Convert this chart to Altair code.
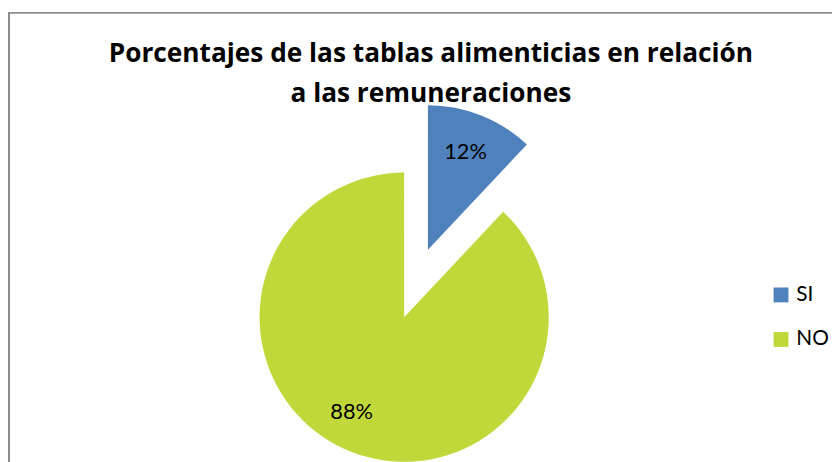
import altair as alt
import pandas as pd

categorias = ["SI", "NO"]
valores = [12, 88]
orden = [0, 1]
colores = ["#4F81BD", "#C2D83A"]
titulo = ["Porcentajes de las tablas alimenticias en relación", "a las remuneraciones"]

df = pd.DataFrame({"categoria": categorias, "valor": valores, "orden": orden})

FONT = "Lato"
TFONT = "Open Sans"
R = 146
CX, CY = 400, 310
SX, SY = 424, 242

color_enc = alt.Color(
    "categoria:N",
    scale=alt.Scale(domain=categorias, range=colores),
    sort=categorias,
    legend=alt.Legend(
        title=None, orient="none", legendX=770, legendY=277,
        symbolType="square", symbolSize=225, symbolStrokeWidth=0,
        labelFont=FONT, labelFontSize=21, labelColor="#000000",
        rowPadding=23, labelOffset=5, padding=0,
    ),
)
theta_enc = alt.Theta("valor:Q", stack=True)
order_enc = alt.Order("orden:Q")

base = alt.Chart(df).transform_calculate(pct="datum.valor / 100")


def op(cat):
    return alt.condition(f"datum.categoria == '{cat}'", alt.value(1), alt.value(0))


arc_no = base.mark_arc(radius=R, stroke=None).encode(
    theta=theta_enc, color=color_enc, order=order_enc,
    x=alt.value(CX), y=alt.value(CY), opacity=op("NO"),
)
arc_si = base.mark_arc(radius=R, stroke=None).encode(
    theta=theta_enc, color=color_enc, order=order_enc,
    x=alt.value(SX), y=alt.value(SY), opacity=op("SI"),
)
txt_no = base.mark_text(radius=106, font=FONT, fontSize=22, color="#000000").encode(
    theta=theta_enc, order=order_enc, text=alt.Text("pct:Q", format=".0%"),
    x=alt.value(CX - 14), y=alt.value(CY - 3), opacity=op("NO"),
)
txt_si = base.mark_text(radius=106, font=FONT, fontSize=22, color="#000000").encode(
    theta=theta_enc, order=order_enc, text=alt.Text("pct:Q", format=".0%"),
    x=alt.value(SX - 1), y=alt.value(SY), opacity=op("SI"),
)
border_left = alt.Chart(df).mark_rule(color="#8c8c8c", strokeWidth=2).encode(
    x=alt.value(1), y=alt.value(2), y2=alt.value(460)
)
border_top = alt.Chart(df).mark_rule(color="#8c8c8c", strokeWidth=1.5).encode(
    x=alt.value(0), x2=alt.value(840), y=alt.value(2.5)
)

chart = alt.layer(border_left, border_top, arc_no, arc_si, txt_no, txt_si).properties(
    width=832, height=454, padding=0, autosize="none",
    title=alt.Title(
        titulo, font=TFONT, fontSize=26.5, fontWeight="bold", color="#000000",
        anchor="middle", baseline="top", offset=0, dy=98, lineHeight=40, dx=11,
    ),
).configure_view(stroke=None)

chart.save("out.html", embed_options={"renderer": "svg", "actions": False})
